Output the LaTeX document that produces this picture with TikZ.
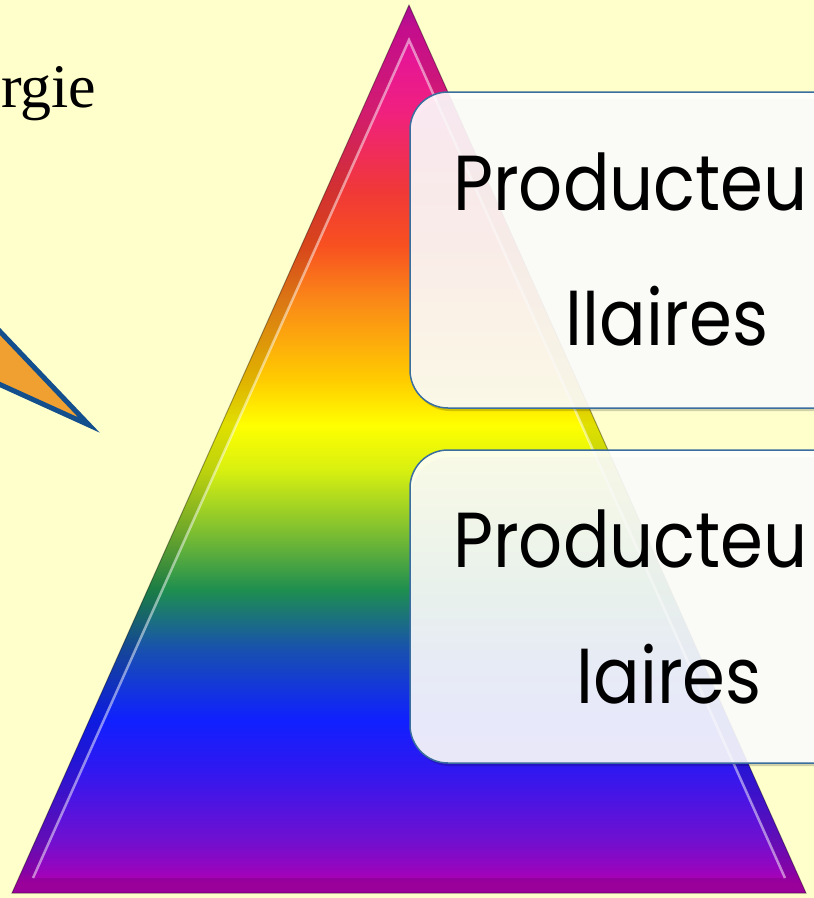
\documentclass[tikz,border=0pt]{standalone}
\usepackage{fontspec}
\setmainfont{Liberation Serif}
\newfontfamily\boxfont[FakeStretch=0.885]{Poppins}
\usetikzlibrary{shadows}
\definecolor{bg}{HTML}{FFFFCC}
\definecolor{tailfill}{HTML}{F0A030}
\definecolor{tailline}{HTML}{124F8C}
\definecolor{boxline}{HTML}{3A6E9E}
\definecolor{ra}{HTML}{B000B0}
\definecolor{rb}{HTML}{9A04BC}
\definecolor{rc}{HTML}{7010D0}
\definecolor{rd}{HTML}{3018F0}
\definecolor{re}{HTML}{1020FF}
\definecolor{rf}{HTML}{1850B0}
\definecolor{rg}{HTML}{1E8E50}
\definecolor{rh}{HTML}{80C030}
\definecolor{ri}{HTML}{D8F010}
\definecolor{rj}{HTML}{FFFF00}
\definecolor{rk}{HTML}{FFCC00}
\definecolor{rl}{HTML}{FA8818}
\definecolor{rm}{HTML}{F85020}
\definecolor{rn}{HTML}{F03838}
\definecolor{ro}{HTML}{F02080}
\definecolor{rp}{HTML}{E010A0}
\definecolor{rq}{HTML}{C010A8}
\pgfdeclareverticalshading{rainbow}{100bp}{color(0bp)=(ra); color(25bp)=(ra); color(25.6bp)=(ra); color(26.2bp)=(rb); color(27.98bp)=(rc); color(31.93bp)=(rd); color(34.74bp)=(re); color(38.68bp)=(rf); color(42.06bp)=(rg); color(45.44bp)=(rh); color(48.82bp)=(ri); color(51.35bp)=(rj); color(53.89bp)=(rk); color(58.39bp)=(rl); color(61.49bp)=(rm); color(64.58bp)=(rn); color(69.09bp)=(ro); color(73.59bp)=(rp); color(75bp)=(rq); color(100bp)=(rq)}
\tikzset{
  tailshape/.style={fill=tailfill, draw=tailline, line width=5pt, line join=miter},
  boxshape/.style={fill=white, fill opacity=0.9, draw=boxline, line width=1.5pt, rounded corners=38pt},
  boxtext/.style={font=\boxfont\fontsize{78}{78}\selectfont, inner sep=0pt},
}
\begin{document}
\begin{tikzpicture}[x=1pt,y=-1pt]
\useasboundingbox (0,0) rectangle (814,898);
\clip (0,0) rectangle (814,898);
\fill[bg] (0,0) rectangle (814,898);
\node[font=\fontsize{62}{62}\selectfont, anchor=base west, inner sep=0pt] (energie) at (1,107) {rgie};
\coordinate (t1) at (-10,321);
\coordinate (tip) at (89,425);
\coordinate (t2) at (-10,380);
\draw[tailshape] (t1) -- (tip) -- (t2) -- cycle;
\coordinate (apex) at (409,5);
\coordinate (bl) at (12,893);
\coordinate (br) at (806,893);
\coordinate (iapex) at (409,40);
\coordinate (ibl) at (33,878);
\coordinate (ibr) at (785,878);
\shade[shading=rainbow] (apex) -- (bl) -- (br) -- cycle;
\fill[black, opacity=0.12, even odd rule] (apex) -- (bl) -- (br) -- cycle (iapex) -- (ibl) -- (ibr) -- cycle;
\draw[white, opacity=0.5, line width=2.5pt] (ibl) -- (iapex) -- (ibr);
\draw[black, opacity=0.35, line width=1pt] (apex) -- (bl) -- (br) -- cycle;
\fill[black, opacity=0.18] (412,99) [rounded corners=38pt] rectangle (905,411);
\draw[boxshape] (410,92) rectangle (900,408);
\fill[black, opacity=0.18] (412,457) [rounded corners=38pt] rectangle (905,766);
\draw[boxshape] (410,450) rectangle (900,763);
\node[boxtext, anchor=base west] (p1) at (453,210) {Producteu};
\node[boxtext, anchor=base] (l1) at (667,345) {IIaires};
\node[boxtext, anchor=base west] (p2) at (453,567) {Producteu};
\node[boxtext, anchor=base] (l2) at (669,703) {Iaires};
\end{tikzpicture}
\end{document}
